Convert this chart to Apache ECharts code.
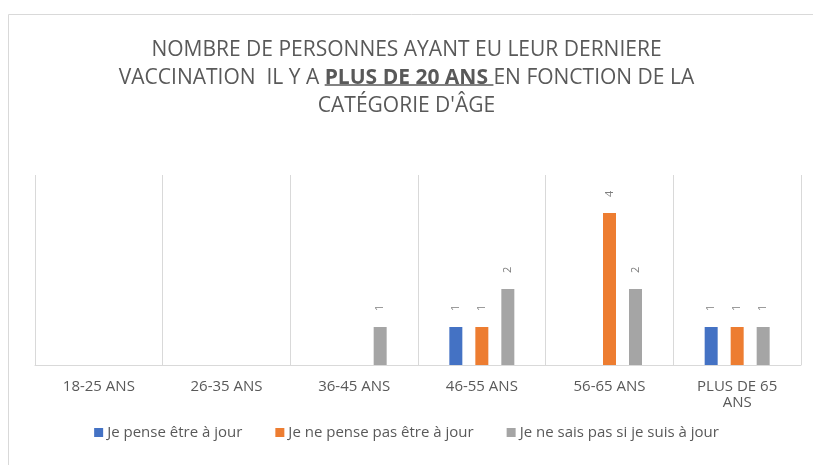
<!DOCTYPE html>
<html>
<head>
<meta charset="utf-8">
<script src="https://cdn.jsdelivr.net/npm/echarts@6/dist/echarts.min.js"></script>
<style>html,body{margin:0;padding:0;background:#fff}#c{width:813px;height:465px}</style>
</head>
<body>
<div id="c"></div>
<script>
var categories = ['18-25 ANS', '26-35 ANS', '36-45 ANS', '46-55 ANS', '56-65 ANS', 'PLUS DE 65\nANS'];
var seriesNames = ['Je pense être à jour', 'Je ne pense pas être à jour', 'Je ne sais pas si je suis à jour'];
var pensAJour = [0, 0, 0, 1, 0, 1];
var pensPasAJour = [0, 0, 0, 1, 4, 1];
var saisPas = [0, 0, 1, 2, 2, 1];
var colors = ['#4472C4', '#ED7D31', '#A5A5A5'];
var titleLine1 = 'NOMBRE DE PERSONNES AYANT EU LEUR DERNIERE';
var titleLine2a = 'VACCINATION  IL Y A ';
var titleLine2b = 'PLUS DE 20 ANS ';
var titleLine2c = 'EN FONCTION DE LA';
var titleLine3 = 'CATÉGORIE D\'ÂGE';

var chart = echarts.init(document.getElementById('c'), null, {renderer: 'canvas'});
var F = '"Open Sans", sans-serif';
var TS = 21, TTOP = 31, TLH = 28;

// underline under the emphasised part of the title (decoration, not data)
var mctx = document.createElement('canvas').getContext('2d');
mctx.font = 'normal ' + TS + 'px ' + F;
var wa = mctx.measureText(titleLine2a).width, wc = mctx.measureText(titleLine2c).width;
mctx.font = 'bold ' + TS + 'px ' + F;
var wb = mctx.measureText(titleLine2b).width;
var x0 = 813 / 2 - (wa + wb + wc) / 2;
var ulY = TTOP + TLH + TLH / 2 + 12;

function mk(name, data, color) {
  return {
    name: name, type: 'bar', data: data, barWidth: 13, barGap: '100%',
    itemStyle: {color: color},
    label: {
      show: true, position: 'top', rotate: 90, distance: 16,
      align: 'left', verticalAlign: 'middle',
      color: '#7f7f7f', fontSize: 11, fontFamily: F,
      formatter: function (p) { return p.value ? String(p.value) : ''; }
    }
  };
}
chart.setOption({
  animation: false,
  textStyle: {fontFamily: F},
  title: {
    left: 'center', top: TTOP,
    text: titleLine1 + '\n{a|' + titleLine2a + '}{b|' + titleLine2b + '}{a|' + titleLine2c + '}\n' + titleLine3,
    textStyle: {
      color: '#595959', fontSize: TS, fontWeight: 'normal', fontFamily: F, lineHeight: TLH,
      rich: {
        a: {color: '#595959', fontSize: TS, fontFamily: F, lineHeight: TLH},
        b: {color: '#595959', fontSize: TS, fontFamily: F, fontWeight: 'bold', lineHeight: TLH}
      }
    }
  },
  legend: {
    bottom: 20, left: 'center', itemWidth: 9, itemHeight: 9, itemGap: 33,
    icon: 'rect',
    textStyle: {color: '#595959', fontSize: 15, fontFamily: F, padding: [0, 0, 0, -1]}
  },
  grid: {left: 35, right: 12, top: 175, bottom: 100, containLabel: false},
  xAxis: {
    type: 'category', data: categories,
    axisLine: {lineStyle: {color: '#d9d9d9', width: 1}},
    axisTick: {show: false},
    splitLine: {show: true, interval: 0, lineStyle: {color: '#d9d9d9', width: 1}},
    axisLabel: {color: '#595959', fontSize: 15, fontFamily: F, margin: 14, interval: 0, lineHeight: 16}
  },
  yAxis: {
    type: 'value', min: 0, max: 5, interval: 1, show: false,
    splitLine: {show: false}
  },
  series: [mk(seriesNames[0], pensAJour, colors[0]), mk(seriesNames[1], pensPasAJour, colors[1]), mk(seriesNames[2], saisPas, colors[2])],
  graphic: [
    {type: 'rect', shape: {x: 8.5, y: 14.5, width: 830, height: 480}, style: {fill: 'none', stroke: '#d9d9d9', lineWidth: 1}, silent: true},
    {type: 'line', shape: {x1: x0 + wa, y1: ulY, x2: x0 + wa + wb, y2: ulY}, style: {stroke: '#595959', lineWidth: 1.5}, silent: true}
  ]
});
</script>
</body>
</html>
